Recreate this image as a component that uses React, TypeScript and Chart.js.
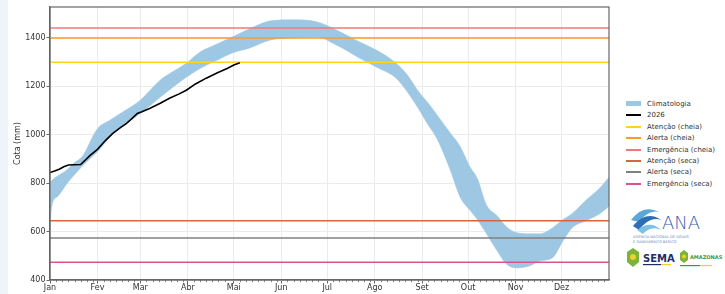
import React, { useEffect, useRef } from "react";
import { Chart, registerables } from "chart.js";

Chart.register(...registerables);

// ---- Data ----
const monthLabels = ["Jan", "Fev", "Mar", "Abr", "Mai", "Jun", "Jul", "Ago", "Set", "Out", "Nov", "Dez"];
const monthStarts = [0, 31, 59, 90, 120, 151, 181, 212, 243, 273, 304, 334];
const yTicks = [400, 600, 800, 1000, 1200, 1400];

const climDays = [0, 1, 5, 11, 16, 21, 31, 39, 49, 59, 72, 80, 89, 98, 108, 119, 131, 144, 159, 174, 187, 202, 213, 226, 233, 240, 247, 253, 261, 268, 274, 279, 285, 292, 298, 305, 313, 320, 328, 335, 341, 350, 359, 365];
const climLower = [610, 700, 745, 798, 835, 870, 930, 990, 1045, 1088, 1155, 1195, 1238, 1274, 1305, 1338, 1360, 1392, 1400, 1404, 1371, 1317, 1280, 1234, 1180, 1114, 1040, 980, 860, 740, 690, 650, 591, 520, 466, 450, 458, 479, 491, 562, 616, 645, 674, 705];
const climUpper = [800, 810, 830, 855, 885, 910, 1025, 1060, 1100, 1143, 1226, 1260, 1296, 1342, 1372, 1404, 1440, 1471, 1475, 1467, 1433, 1384, 1350, 1296, 1250, 1184, 1130, 1080, 1010, 950, 870, 820, 710, 665, 620, 595, 591, 591, 615, 650, 675, 730, 780, 825];

const obsDays = [0, 3, 6, 9, 12, 16, 20, 23, 26, 31, 36, 41, 46, 50, 54, 57, 60, 65, 72, 78, 84, 89, 95, 102, 109, 116, 120, 124];
const obs2026 = [844, 850, 858, 868, 875, 876, 877, 895, 914, 940, 975, 1006, 1030, 1047, 1070, 1088, 1095, 1109, 1130, 1151, 1168, 1184, 1210, 1234, 1255, 1275, 1288, 1298];

const thresholdNames = ["Atenção (cheia)", "Alerta (cheia)", "Emergência (cheia)", "Atenção (seca)", "Alerta (seca)", "Emergência (seca)"];
const thresholdValues = [1300, 1400, 1441, 645, 574, 473];
const thresholdColors = ["#ffd31a", "#ff9a2a", "#f07878", "#d8653e", "#808080", "#e2508a"];

const bandColor = "#9ec7e3";

const FONT = "'DejaVu Sans', sans-serif";

export default function App() {
  const ref = useRef<HTMLCanvasElement | null>(null);

  useEffect(() => {
    const canvas = ref.current;
    if (!canvas) return;

    const minorDays: number[] = [];
    monthStarts.forEach((s, i) => {
      const next = i < monthStarts.length - 1 ? monthStarts[i + 1] : 365;
      for (let d = s + 4; d < next - 2; d += 4) minorDays.push(d);
    });

    const framePlugin = {
      id: "frame",
      afterDraw(chart: any) {
        const { ctx, chartArea } = chart;
        const { left, top, right, bottom } = chartArea;
        const x = chart.scales.x;
        ctx.save();
        ctx.strokeStyle = "#666";
        ctx.lineWidth = 1.2;
        ctx.strokeRect(left, top, right - left, bottom - top);
        ctx.lineWidth = 0.8;
        ctx.beginPath();
        minorDays.forEach((d) => {
          const px = Math.round(x.getPixelForValue(d)) + 0.5;
          ctx.moveTo(px, bottom);
          ctx.lineTo(px, bottom + 2.2);
        });
        ctx.stroke();
        ctx.restore();
      },
    };

    const thresholdSets = thresholdNames.map((name, i) => ({
      label: name,
      data: [
        { x: 0, y: thresholdValues[i] },
        { x: 365, y: thresholdValues[i] },
      ],
      borderColor: thresholdColors[i],
      borderWidth: 1.5,
      pointRadius: 0,
      fill: false,
    }));

    const datasets: any[] = [
      {
        label: "2026",
        data: obsDays.map((d, i) => ({ x: d, y: obs2026[i] })),
        borderColor: "#000",
        borderWidth: 1.6,
        pointRadius: 0,
        fill: false,
      },
      ...thresholdSets,
      {
        label: "clim-lower",
        data: climDays.map((d, i) => ({ x: d, y: climLower[i] })),
        borderColor: bandColor,
        borderWidth: 0.5,
        pointRadius: 0,
        cubicInterpolationMode: "monotone",
        fill: false,
      },
      {
        label: "Climatologia",
        data: climDays.map((d, i) => ({ x: d, y: climUpper[i] })),
        borderColor: bandColor,
        backgroundColor: bandColor,
        borderWidth: 0.5,
        pointRadius: 0,
        cubicInterpolationMode: "monotone",
        fill: "-1",
      },
    ];

    const chart = new Chart(canvas, {
      type: "line",
      data: { datasets },
      plugins: [framePlugin],
      options: {
        animation: false,
        responsive: false,
        devicePixelRatio: 1,
        layout: { padding: { top: 7, right: 11, left: 0, bottom: 0 } },
        plugins: {
          legend: { display: false },
          tooltip: { enabled: false },
        },
        scales: {
          x: {
            type: "linear",
            min: 0,
            max: 365,
            afterBuildTicks: (scale: any) => {
              scale.ticks = monthStarts.map((v) => ({ value: v }));
            },
            afterFit: (scale: any) => {
              scale.height = 14;
            },
            ticks: {
              autoSkip: false,
              maxRotation: 0,
              padding: 0,
              color: "#333",
              font: { family: FONT, size: 8 },
              callback: (v: any) => {
                const idx = monthStarts.indexOf(Number(v));
                return idx >= 0 ? monthLabels[idx] : "";
              },
            },
            grid: {
              color: "#ebebeb",
              lineWidth: 1,
              tickLength: 3.5,
              tickColor: "#666",
            },
            border: { display: true, color: "#666", width: 1.2 },
          },
          y: {
            type: "linear",
            min: 400,
            max: 1528,
            afterBuildTicks: (scale: any) => {
              scale.ticks = yTicks.map((v) => ({ value: v }));
            },
            afterFit: (scale: any) => {
              scale.width = 50;
            },
            ticks: {
              padding: 1,
              color: "#333",
              font: { family: FONT, size: 8 },
              callback: (v: any) => String(v),
            },
            grid: {
              color: "#ebebeb",
              lineWidth: 1,
              tickLength: 3.5,
              tickColor: "#666",
            },
            border: { display: true, color: "#666", width: 1.2 },
            title: {
              display: true,
              text: "Cota (mm)",
              color: "#333",
              font: { family: FONT, size: 8 },
              padding: { top: 13, bottom: 0 },
            },
          },
        },
      },
    });

    return () => chart.destroy();
  }, []);

  const legendItems: { label: string; color: string; patch?: boolean }[] = [
    { label: "Climatologia", color: bandColor, patch: true },
    { label: "2026", color: "#000" },
    ...thresholdNames.map((n, i) => ({ label: n, color: thresholdColors[i] })),
  ];

  return (
    <div
      style={{
        position: "fixed",
        left: 0,
        top: 0,
        width: 725,
        height: 294,
        background: "#fff",
        overflow: "hidden",
        fontFamily: FONT,
      }}
    >
      <div style={{ position: "absolute", left: 0, top: 0, width: 8, height: 294, background: "#eef3fc" }} />
      <canvas ref={ref} width={620} height={294} style={{ position: "absolute", left: 0, top: 0, width: 620, height: 294 }} />
      {legendItems.map((it, i) => (
        <div
          key={it.label}
          style={{
            position: "absolute",
            left: 626,
            top: Math.round(98 + i * 11.4),
            height: 11,
            display: "flex",
            alignItems: "center",
            fontSize: 7,
            color: "#333",
            whiteSpace: "nowrap",
          }}
        >
          {it.patch ? (
            <span style={{ display: "inline-block", width: 15, height: 5, background: it.color, marginRight: 6 }} />
          ) : (
            <span style={{ display: "inline-block", width: 15, height: 2, background: it.color, marginRight: 6 }} />
          )}
          <span>{it.label}</span>
        </div>
      ))}
      {/* Logos */}
      <svg style={{ position: "absolute", left: 625, top: 200 }} width={100} height={72} viewBox="0 0 100 72">
        <path d="M6 20 C14 10, 22 6, 34 12 C28 10, 20 14, 14 22 Z" fill="#5aa7d9" />
        <path d="M8 26 C18 14, 28 14, 36 20 C28 17, 20 22, 14 30 Z" fill="#2f6db5" />
        <path d="M12 30 C22 22, 30 24, 36 30 C28 26, 22 30, 18 34 Z" fill="#7cc2e8" />
        <text x="37" y="29" fill="#3d5fa8" fontFamily="'DejaVu Sans', sans-serif" fontSize="18" fontWeight="300">ANA</text>
        <text x="8" y="38" fill="#6a86b8" fontFamily="'DejaVu Sans', sans-serif" fontSize="3.6">AGÊNCIA NACIONAL DE ÁGUAS</text>
        <text x="8" y="43" fill="#6a86b8" fontFamily="'DejaVu Sans', sans-serif" fontSize="3.6">E SANEAMENTO BÁSICO</text>
        <path d="M2 52 L8 48 L14 52 L14 62 L8 67 L2 62 Z" fill="#7bb33b" />
        <circle cx="8" cy="57" r="3" fill="#f2cf2a" />
        <text x="18" y="62" fill="#1d2f6b" fontFamily="'DejaVu Sans', sans-serif" fontSize="10" fontWeight="bold">SEMA</text>
        <rect x="18" y="64" width="18" height="1.2" fill="#1d2f6b" />
        <rect x="36" y="64" width="10" height="1.2" fill="#f2d22a" />
        <path d="M55 53 L59 50 L63 53 L63 60 L59 63 L55 60 Z" fill="#7bb33b" />
        <circle cx="59" cy="56.5" r="2" fill="#f2cf2a" />
        <text x="65" y="59" fill="#3a9a3a" fontFamily="'DejaVu Sans', sans-serif" fontSize="5" fontWeight="bold">AMAZONAS</text>
        <rect x="55" y="65" width="20" height="1.2" fill="#3a9a3a" />
        <rect x="75" y="65" width="12" height="1.2" fill="#f2d22a" />
      </svg>
    </div>
  );
}
